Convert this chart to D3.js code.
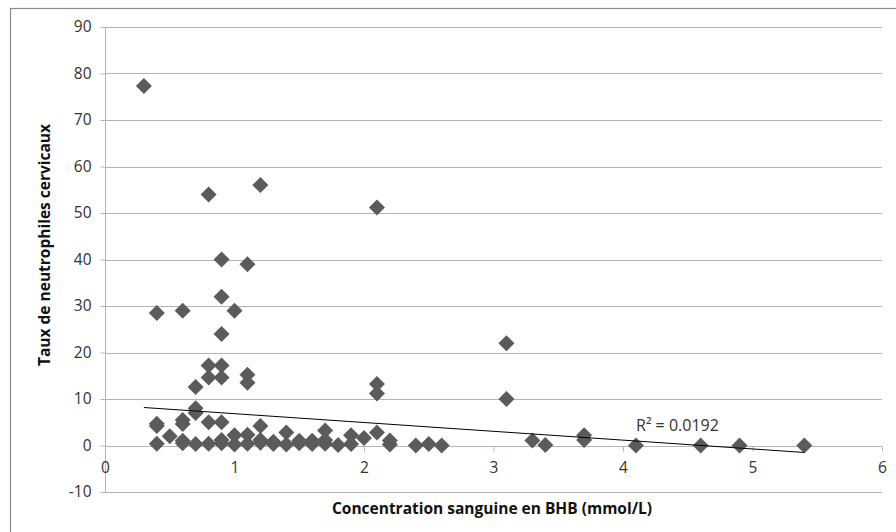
<!DOCTYPE html>
<html><head><meta charset="utf-8">
<script src="https://cdn.jsdelivr.net/npm/d3@7"></script>
<style>body{margin:0;background:#fff}svg{display:block}</style>
</head><body>
<svg id="c" width="896" height="532"></svg>
<script>
// BHB concentration (mmol/L)
const bhb = [
  0.3, 0.4, 0.6, 0.8, 1.2, 2.1, 0.9, 1.1, 0.9, 1.0, 0.9,
  0.8, 0.9, 0.8, 0.9, 1.1, 1.1, 0.7, 0.7, 0.7, 2.1, 2.1, 3.1, 3.1,
  0.4, 0.4, 0.6, 0.6, 0.8, 0.9, 1.2,
  0.5, 0.6, 0.9, 1.0, 1.1, 1.2, 1.3, 1.4, 1.5, 1.6, 1.7, 1.7, 1.9, 2.0, 2.1, 2.2, 3.3, 3.7, 3.7,
  0.4, 0.6, 0.7, 0.8, 0.9, 1.0, 1.1, 1.2, 1.3, 1.4, 1.5, 1.6, 1.7, 1.8, 1.9,
  2.2, 2.4, 2.5, 2.6, 3.4, 4.1, 4.6, 4.9, 5.4
];
// cervical neutrophil rate
const neutro = [
  77.3, 28.5, 29.0, 54.0, 56.0, 51.2, 40.0, 39.0, 32.0, 29.0, 24.0,
  17.2, 17.2, 14.6, 14.6, 15.2, 13.5, 12.6, 8.0, 7.0, 13.2, 11.2, 22.0, 10.0,
  4.7, 4.2, 5.5, 4.6, 5.0, 5.0, 4.2,
  2.0, 1.0, 1.2, 2.2, 2.3, 1.2, 0.8, 2.8, 1.0, 1.0, 3.2, 1.2, 2.2, 1.6, 2.8, 1.1, 1.1, 2.2, 1.2,
  0.4, 0.5, 0.3, 0.4, 0.5, 0.2, 0.4, 0.6, 0.3, 0.2, 0.5, 0.3, 0.4, 0.1, 0.3,
  0.2, 0.0, 0.3, 0.0, 0.1, 0.0, 0.0, 0.0, 0.0
];
// linear trendline endpoints (as drawn in reference)
const trendX = [0.3, 5.4];
const trendY = [8.17, -1.5];
const rSquaredLabel = "R² = 0.0192";
const xTicks = [0, 1, 2, 3, 4, 5, 6];
const yTicks = [-10, 0, 10, 20, 30, 40, 50, 60, 70, 80, 90];
const xTitle = "Concentration sanguine en BHB (mmol/L)";
const yTitle = "Taux de neutrophiles cervicaux";

const svg = d3.select("#c");
const font = "'Open Sans', sans-serif";
const x = d3.scaleLinear().domain([0, 6]).range([105, 882]);
const y = d3.scaleLinear().domain([-10, 90]).range([492, 27]);
const grid = "#b4b4b4";

// outer border
svg.append("rect").attr("x", 10.5).attr("y", 8.5).attr("width", 960).attr("height", 600)
  .attr("fill", "none").attr("stroke", "#8c8c8c").attr("stroke-width", 1.2);

// gridlines
svg.append("g").selectAll("line").data(yTicks).join("line")
  .attr("x1", x(0)).attr("x2", x(6))
  .attr("y1", d => Math.round(y(d)) + 0.5).attr("y2", d => Math.round(y(d)) + 0.5)
  .attr("stroke", grid).attr("stroke-width", 1);

// y axis
const ya = svg.append("g").attr("transform", `translate(${Math.round(x(0)) + 0.5},0)`)
  .call(d3.axisLeft(y).tickValues(yTicks).tickSize(5).tickPadding(9).tickFormat(d => String(d)));
ya.selectAll("path,line").attr("stroke", grid);
ya.select(".domain").attr("d", `M0,${y(90)}V${y(-10)}`);
ya.selectAll("text").attr("font-family", font).attr("font-size", 15.5).attr("fill", "#333");

// x axis at y=0
const xa = svg.append("g").attr("transform", `translate(0,${Math.round(y(0)) + 0.5})`)
  .call(d3.axisBottom(x).tickValues(xTicks).tickSize(5).tickPadding(10).tickFormat(d => String(d)));
xa.selectAll("path,line").attr("stroke", grid);
xa.select(".domain").attr("d", `M${x(0)},0H${x(6)}`);
xa.selectAll("text").attr("font-family", font).attr("font-size", 15.5).attr("fill", "#333");

// points
const pts = bhb.map((b, i) => [b, neutro[i]]);
const r = 8;
svg.append("g").selectAll("path").data(pts).join("path")
  .attr("d", `M0,${-r}L${r},0L0,${r}L${-r},0Z`)
  .attr("transform", d => `translate(${x(d[0])},${y(d[1])})`)
  .attr("fill", "#5b5b5b");

// trendline
svg.append("line")
  .attr("x1", x(trendX[0])).attr("y1", y(trendY[0]))
  .attr("x2", x(trendX[1])).attr("y2", y(trendY[1]))
  .attr("stroke", "#000").attr("stroke-width", 1);

svg.append("text").attr("x", 636).attr("y", 431)
  .attr("font-family", font).attr("font-size", 16).attr("fill", "#333").text(rSquaredLabel);

// titles
svg.append("text").attr("x", 492).attr("y", 514).attr("text-anchor", "middle")
  .attr("font-family", font).attr("font-weight", "bold").attr("font-size", 15.5).attr("fill", "#111")
  .text(xTitle);
svg.append("text").attr("transform", "translate(50,245) rotate(-90)").attr("text-anchor", "middle")
  .attr("font-family", font).attr("font-weight", "bold").attr("font-size", 15.5).attr("fill", "#111")
  .text(yTitle);
</script>
</body></html>
